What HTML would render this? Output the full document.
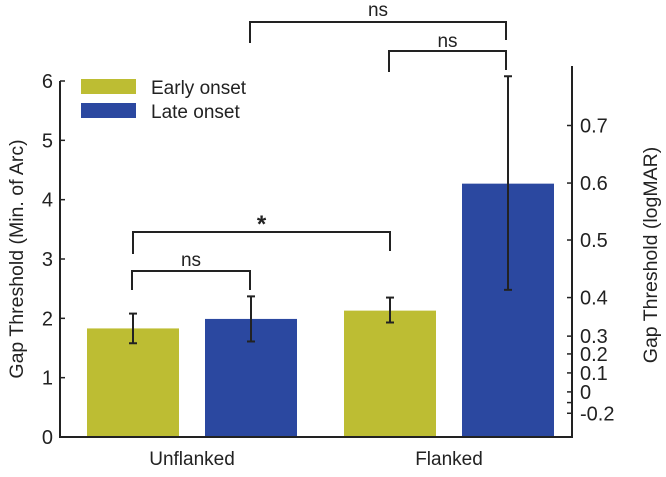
<!DOCTYPE html>
<html><head><meta charset="utf-8"><style>
body{margin:0;background:#fff}
svg text{font-family:"Liberation Sans",sans-serif;fill:#222}
</style></head><body>
<svg width="666" height="472" id="c"></svg>
<script>
const categories=["Unflanked","Flanked"];
const earlyVals=[1.83,2.13];
const lateVals=[1.99,4.27];
const earlyLo=[1.58,1.93];
const earlyHi=[2.08,2.35];
const lateLo=[1.61,2.48];
const lateHi=[2.37,6.08];
const leftTicks=[0,1,2,3,4,5,6];
const rightLabels=["0.7","0.6","0.5","0.4","0.3","0.2","0.1","0","","-0.2"];
const rightTickVals=[5.25,4.28,3.32,2.35,1.7,1.4,1.08,0.76,0.58,0.4];
const svg=document.getElementById('c');
const NS='http://www.w3.org/2000/svg';
const X0=60,X1=572,Y0=437,Y6=81;
const y=v=>Y0-(Y0-Y6)*v/6;
const groupX=[87,344];
const barW=92, gap=26;
function mk(t,a,p){const e=document.createElementNS(NS,t);for(const k in a)e.setAttribute(k,a[k]);(p||svg).appendChild(e);return e;}
function txt(s,a){const e=mk('text',a);e.textContent=s;return e;}
categories.forEach((c,i)=>{
  const xe=groupX[i], xl=xe+barW+gap;
  let e=mk('rect',{x:xe,y:y(earlyVals[i]),width:barW,height:Y0-y(earlyVals[i]),fill:'#bdbd33'});
  
  
  e=mk('rect',{x:xl,y:y(lateVals[i]),width:barW,height:Y0-y(lateVals[i]),fill:'#2b48a0'});
  
  
  [[xe,earlyLo[i],earlyHi[i]],[xl,lateLo[i],lateHi[i]]].forEach(([bx,lo,hi])=>{
    const cx=bx+barW/2;
    const g=mk('g',{stroke:'#222','stroke-width':2});
    
    
    mk('line',{x1:cx,x2:cx,y1:y(lo),y2:y(hi)},g);
    mk('line',{x1:cx-4,x2:cx+4,y1:y(lo),y2:y(lo)},g);
    mk('line',{x1:cx-4,x2:cx+4,y1:y(hi),y2:y(hi)},g);
  });
  const t=txt(c,{x:xe+barW+gap/2,y:465,'text-anchor':'middle','font-size':19});
  
  
});
let ax=mk('path',{d:`M${X0} ${Y6}V${Y0}H${X1}V66`,fill:'none',stroke:'#222','stroke-width':2});


leftTicks.forEach(v=>{
  mk('line',{x1:X0,x2:X0+5,y1:y(v),y2:y(v),stroke:'#222','stroke-width':1.5});
  const t=txt(String(v),{x:X0-7,y:y(v)+7,'text-anchor':'end','font-size':20});
  
  
});
rightTickVals.forEach((v,i)=>{
  mk('line',{x1:X1-5,x2:X1,y1:y(v),y2:y(v),stroke:'#222','stroke-width':1.5});
  if(rightLabels[i]){const t=txt(rightLabels[i],{x:X1+8,y:y(v)+7,'font-size':20});
  
  }
});
let t=txt('Gap Threshold (Min. of Arc)',{transform:'translate(23,259) rotate(-90)','text-anchor':'middle','font-size':19.5});

t=txt('Gap Threshold (logMAR)',{transform:'translate(657,255) rotate(-90)','text-anchor':'middle','font-size':19.5});

[['Early onset','#bdbd33',79],['Late onset','#2b48a0',103]].forEach(([s,c,yy])=>{
  mk('rect',{x:81,y:yy,width:55,height:15,fill:c});
  const e=txt(s,{x:151,y:yy+15,'font-size':19});
  
});
[[250,506,22,43,40,'ns',16],[389,506,51,72,70,'ns',47],[133,390,232,254,251,'*',232],[132,250,271,290,290,'ns',266]].forEach(([a,b,yt,l1,l2,s,ty])=>{
  const p=mk('path',{d:`M${a} ${l1}V${yt}H${b}V${l2}`,fill:'none',stroke:'#222','stroke-width':2});
  
  const e=txt(s,{x:(a+b)/2,y:ty,'text-anchor':'middle','font-size':s=='*'?24:19,'font-weight':s=='*'?'bold':'normal'});
  
});
</script>
</body></html>
